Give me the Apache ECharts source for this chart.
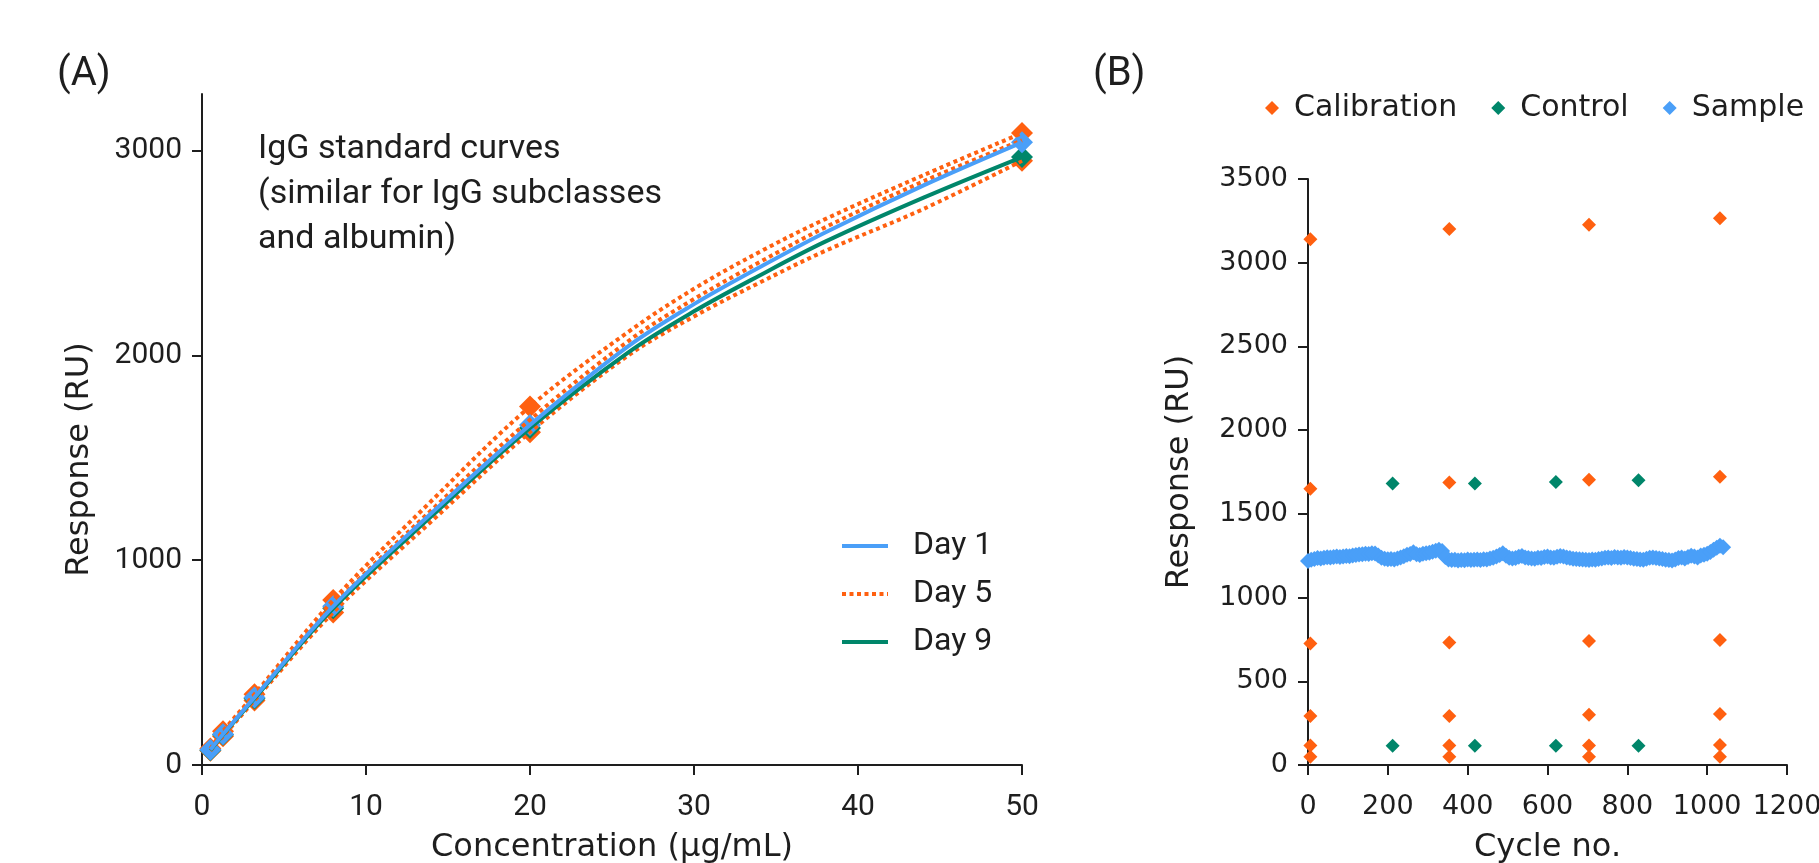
<!DOCTYPE html>
<html>
<head>
<meta charset="utf-8">
<title>IgG standard curves and assay stability</title>
<script src="https://cdn.jsdelivr.net/npm/echarts@6/dist/echarts.min.js"></script>
<style>
  html, body { margin: 0; padding: 0; background: #fff; }
  #chart { width: 1819px; height: 863px; }
</style>
</head>
<body>
<div id="chart"></div>
<script>
// ---- (A) standard curves ----
var concPoints = [0.512, 1.28, 3.2, 8, 20, 50];
var day1Points = [75, 150, 330, 775, 1660, 3040];
var day5HighPoints = [80, 165, 345, 805, 1750, 3085];
var day5LowPoints = [70, 140, 315, 745, 1625, 2950];
var day9Points = [72, 148, 325, 765, 1645, 2968];

// fitted curves
var concCurve = [0.512, 1.28, 3.2, 8, 14, 20, 26, 30, 34, 38, 44, 50];
var day1Curve = [75, 150, 330, 775, 1230, 1660, 2045, 2250, 2430, 2600, 2830, 3040];
var day5Curve = [75, 155, 335, 780, 1245, 1685, 2070, 2275, 2455, 2625, 2850, 3050];
var day5HighCurve = [80, 165, 345, 805, 1290, 1750, 2115, 2325, 2505, 2665, 2880, 3085];
var day5LowCurve = [70, 140, 315, 745, 1190, 1625, 2000, 2190, 2355, 2510, 2715, 2950];
var day9Curve = [72, 148, 325, 765, 1215, 1645, 2015, 2215, 2390, 2555, 2770, 2968];

// ---- (B) run stability ----
var calibCycles = [6, 6, 6, 6, 6, 6,
  354, 354, 354, 354, 354, 354,
  704, 704, 704, 704, 704, 704,
  1032, 1032, 1032, 1032, 1032, 1032];
var calibValues = [3140, 1650, 725, 293, 117, 50,
  3202, 1688, 731, 293, 117, 50,
  3227, 1703, 741, 300, 117, 50,
  3265, 1722, 747, 305, 120, 50];
var controlCycles = [212, 212, 418, 418, 621, 621, 828, 828];
var controlValues = [1681, 115, 1681, 115, 1690, 115, 1700, 115];
var sampleStep = 8; // one value every 8 cycles, from cycle 0
var sampleValues = [
  1218, 1226, 1231, 1236, 1234, 1238, 1241, 1239, 1243, 1245, 1242, 1246, 1248, 1247, 1251, 1254, 1257, 1259, 1262, 1260, 1265, 1263,
  1252, 1238, 1232, 1229, 1231, 1228, 1233, 1240, 1247, 1256, 1260, 1270, 1259, 1255, 1262, 1264, 1268, 1274, 1280, 1285, 1278,
  1242, 1228, 1224, 1226, 1222, 1225, 1223, 1227, 1224, 1226, 1228, 1225, 1229, 1227, 1233, 1238, 1245, 1255,
  1265, 1250, 1238, 1233, 1236, 1244, 1248, 1240, 1236, 1234, 1232, 1238, 1236, 1242, 1246, 1240, 1238, 1244, 1248,
  1246, 1240, 1236, 1232, 1230, 1229, 1228, 1226, 1225, 1227, 1226, 1230, 1234, 1238, 1240, 1236, 1242, 1240, 1238, 1242, 1240,
  1236, 1232, 1230, 1228, 1226, 1232, 1238, 1240, 1236, 1234, 1230, 1226, 1224, 1222, 1228, 1236, 1240, 1234, 1242, 1250,
  1246, 1240, 1252, 1256, 1262, 1272, 1286, 1298, 1310, 1300
];

var BLUE = '#4a9ff8';
var ORANGE = '#ff6010';
var GREEN = '#00866a';
var INK = '#1e1e1e';
var NARROW = "Roboto, 'Liberation Sans', sans-serif";
var WIDE = "'DejaVu Sans', Verdana, sans-serif";

function zip(xs, ys) {
  var out = [];
  for (var i = 0; i < xs.length; i++) out.push([xs[i], ys[i]]);
  return out;
}

var sampleData = [];
for (var i = 0; i < sampleValues.length; i++) {
  sampleData.push([i * sampleStep, sampleValues[i]]);
}

function plain(v) {
  return String(v);
}

var chart = echarts.init(document.getElementById('chart'), null, {renderer: 'canvas'});

function curve(name, xs, ys, color, dotted) {
  return {
    name: name,
    type: 'line',
    xAxisIndex: 0,
    yAxisIndex: 0,
    smooth: 0.35,
    symbol: 'none',
    lineStyle: {
      color: color,
      width: 4,
      type: dotted ? [4, 3.5] : 'solid',
      cap: 'butt'
    },
    itemStyle: {color: color},
    data: zip(xs, ys)
  };
}

function dots(name, xs, ys, color) {
  return {
    name: name,
    type: 'scatter',
    xAxisIndex: 0,
    yAxisIndex: 0,
    symbol: 'diamond',
    symbolSize: 22,
    itemStyle: {color: color, opacity: 1},
    data: zip(xs, ys)
  };
}

var option = {
  backgroundColor: '#fff',
  animation: false,
  title: [
    {text: '(A)', left: 52, top: 50, textStyle: {fontFamily: NARROW, fontSize: 40, fontWeight: 'normal', color: INK}},
    {text: '(B)', left: 1088, top: 50, textStyle: {fontFamily: NARROW, fontSize: 40, fontWeight: 'normal', color: INK}}
  ],
  legend: [
    {
      data: ['Day 1', 'Day 5', 'Day 9'],
      orient: 'vertical',
      left: 835,
      top: 525,
      itemWidth: 46,
      itemHeight: 14,
      itemGap: 16,
      itemStyle: {opacity: 0},
      lineStyle: {width: 4},
      textStyle: {fontFamily: NARROW, fontSize: 32, color: INK, lineHeight: 32, padding: [0, 0, 0, 20]}
    },
    {
      data: ['Calibration', 'Control', 'Sample'],
      orient: 'horizontal',
      left: 1260,
      top: 88,
      itemWidth: 14,
      itemHeight: 14,
      itemGap: 34,
      textStyle: {fontFamily: WIDE, fontSize: 30, color: INK, padding: [0, 0, 0, 10]}
    }
  ],
  grid: [
    {left: 202, top: 94, width: 820, height: 671, outerBoundsMode: 'none'},
    {left: 1308, top: 179, width: 479, height: 586, outerBoundsMode: 'none'}
  ],
  xAxis: [
    {
      type: 'value', gridIndex: 0, min: 0, max: 50, interval: 10,
      name: 'Concentration (µg/mL)', nameLocation: 'middle', nameGap: 67,
      nameTextStyle: {fontFamily: WIDE, fontSize: 32, color: INK},
      axisLine: {lineStyle: {color: INK, width: 2}},
      axisTick: {length: 10, lineStyle: {color: INK, width: 2}},
      axisLabel: {fontFamily: NARROW, fontSize: 30, color: INK, margin: 27, formatter: plain},
      splitLine: {show: false}
    },
    {
      type: 'value', gridIndex: 1, min: 0, max: 1200, interval: 200,
      name: 'Cycle no.', nameLocation: 'middle', nameGap: 67,
      nameTextStyle: {fontFamily: WIDE, fontSize: 32, color: INK},
      axisLine: {lineStyle: {color: INK, width: 2}},
      axisTick: {length: 10, lineStyle: {color: INK, width: 2}},
      axisLabel: {fontFamily: WIDE, fontSize: 27, color: INK, margin: 28, formatter: plain},
      splitLine: {show: false}
    }
  ],
  yAxis: [
    {
      type: 'value', gridIndex: 0, min: 0, max: 3276,
      name: 'Response (RU)', nameLocation: 'middle', nameGap: 106,
      nameTextStyle: {fontFamily: WIDE, fontSize: 32, color: INK, padding: [0, 60, 0, 0]},
      axisLine: {show: true, lineStyle: {color: INK, width: 2}},
      axisTick: {show: true, length: 10, lineStyle: {color: INK, width: 2}, customValues: [0, 1000, 2000, 3000]},
      axisLabel: {fontFamily: NARROW, fontSize: 30, color: INK, margin: 20, formatter: plain, customValues: [0, 1000, 2000, 3000]},
      splitLine: {show: false}
    },
    {
      type: 'value', gridIndex: 1, min: 0, max: 3500, interval: 500,
      name: 'Response (RU)', nameLocation: 'middle', nameGap: 112,
      nameTextStyle: {fontFamily: WIDE, fontSize: 32, color: INK},
      axisLine: {show: true, lineStyle: {color: INK, width: 2}},
      axisTick: {show: true, length: 10, lineStyle: {color: INK, width: 2}},
      axisLabel: {fontFamily: WIDE, fontSize: 27, color: INK, margin: 20, formatter: plain},
      splitLine: {show: false}
    }
  ],
  graphic: [
    {
      type: 'text',
      left: 258,
      top: 127,
      style: {
        text: 'IgG standard curves\n(similar for IgG subclasses\nand albumin)',
        font: '34px ' + NARROW,
        lineHeight: 45,
        fill: INK
      }
    }
  ],
  series: [
    curve('Day 5', concCurve, day5HighCurve, ORANGE, true),
    curve('Day 5', concCurve, day5LowCurve, ORANGE, true),
    dots('Day 5 points high', concPoints, day5HighPoints, ORANGE),
    dots('Day 5 points low', concPoints, day5LowPoints, ORANGE),
    curve('Day 5', concCurve, day5Curve, ORANGE, true),
    curve('Day 9', concCurve, day9Curve, GREEN, false),
    dots('Day 9 points', concPoints, day9Points, GREEN),
    curve('Day 1', concCurve, day1Curve, BLUE, false),
    dots('Day 1 points', concPoints, day1Points, BLUE),
    {
      name: 'Sample', type: 'scatter', xAxisIndex: 1, yAxisIndex: 1,
      symbol: 'diamond', symbolSize: 16,
      itemStyle: {color: BLUE, opacity: 1},
      data: sampleData
    },
    {
      name: 'Control', type: 'scatter', xAxisIndex: 1, yAxisIndex: 1,
      symbol: 'diamond', symbolSize: 14,
      itemStyle: {color: GREEN, opacity: 1},
      data: zip(controlCycles, controlValues)
    },
    {
      name: 'Calibration', type: 'scatter', xAxisIndex: 1, yAxisIndex: 1,
      symbol: 'diamond', symbolSize: 14,
      itemStyle: {color: ORANGE, opacity: 1},
      data: zip(calibCycles, calibValues)
    }
  ]
};

chart.setOption(option);
</script>
</body>
</html>
